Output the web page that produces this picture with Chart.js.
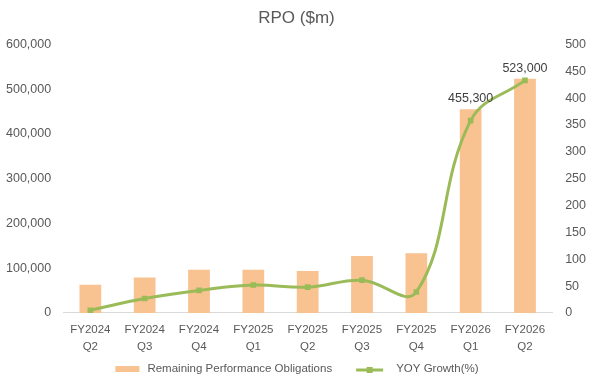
<!DOCTYPE html>
<html>
<head>
<meta charset="utf-8">
<script src="https://cdn.jsdelivr.net/npm/chart.js@4"></script>
<style>
  html, body { margin: 0; padding: 0; background: #fff; }
  #wrap { width: 592px; height: 381px; }
</style>
</head>
<body>
<div id="wrap"><canvas id="c" width="592" height="381"></canvas></div>
<script>
const categories = [
  ['FY2024', 'Q2'], ['FY2024', 'Q3'], ['FY2024', 'Q4'],
  ['FY2025', 'Q1'], ['FY2025', 'Q2'], ['FY2025', 'Q3'], ['FY2025', 'Q4'],
  ['FY2026', 'Q1'], ['FY2026', 'Q2']
];
const rpoValues = [63300, 79000, 96300, 96300, 94000, 127000, 133600, 455300, 523000];
const yoyGrowth = [5, 27, 42, 52, 48, 61, 39, 358, 433];
const labelledBars = [7, 8];
const leftTicks = [0, 100000, 200000, 300000, 400000, 500000, 600000];
const rightTicks = [0, 50, 100, 150, 200, 250, 300, 350, 400, 450, 500];
const seriesNames = ['Remaining Performance Obligations', 'YOY Growth(%)'];

const FONT = "'Liberation Sans', Arial, sans-serif";
const TXT = '#595959';
const ORANGE = '#F8C291';
const GREEN = '#9BBB59';

const dataLabelPlugin = {
  id: 'dataLabels',
  afterDatasetsDraw(chart) {
    const meta = chart.getDatasetMeta(1);
    const ctx = chart.ctx;
    ctx.save();
    ctx.font = '12.5px ' + FONT;
    ctx.fillStyle = '#404040';
    ctx.textAlign = 'center';
    ctx.textBaseline = 'bottom';
    labelledBars.forEach(i => {
      const el = meta.data[i];
      ctx.fillText(rpoValues[i].toLocaleString('en-US'), el.x, el.y - 4);
    });
    ctx.restore();
  }
};

// legend drawn below the axis: bar swatch + line-with-marker swatch
const legendPlugin = {
  id: 'customLegend',
  afterDraw(chart) {
    const ctx = chart.ctx;
    ctx.save();
    ctx.font = '11.5px ' + FONT;
    ctx.textBaseline = 'middle';
    ctx.textAlign = 'left';
    const w1 = ctx.measureText(seriesNames[0]).width;
    const w2 = ctx.measureText(seriesNames[1]).width;
    const total = 24 + 8 + w1 + 24 + 27 + 13 + w2;
    let x = chart.width / 2 - total / 2 + 1;
    const y = 369;
    ctx.fillStyle = ORANGE;
    ctx.fillRect(x, y - 3, 24, 6);
    x += 32;
    ctx.fillStyle = TXT;
    ctx.fillText(seriesNames[0], x, y);
    x += w1 + 24;
    ctx.strokeStyle = GREEN;
    ctx.lineWidth = 3;
    ctx.beginPath(); ctx.moveTo(x, y + 1); ctx.lineTo(x + 27, y + 1); ctx.stroke();
    ctx.fillStyle = GREEN;
    ctx.fillRect(x + 10.5, y - 2, 6, 6);
    x += 40;
    ctx.fillStyle = TXT;
    ctx.fillText(seriesNames[1], x, y);
    ctx.restore();
  }
};

new Chart(document.getElementById('c'), {
  data: {
    labels: categories,
    datasets: [
      {
        type: 'line',
        label: seriesNames[1],
        data: yoyGrowth,
        yAxisID: 'y1',
        borderColor: GREEN,
        backgroundColor: GREEN,
        borderWidth: 3,
        tension: 0.4,
        pointStyle: 'rect',
        pointRadius: 4,
        pointBackgroundColor: GREEN,
        pointBorderWidth: 0,
        order: 1
      },
      {
        type: 'bar',
        label: seriesNames[0],
        data: rpoValues,
        yAxisID: 'y',
        backgroundColor: ORANGE,
        barPercentage: 0.4,
        categoryPercentage: 1.0,
        order: 2
      }
    ]
  },
  options: {
    responsive: false,
    animation: false,
    layout: { padding: { left: -6, right: -7, top: 6, bottom: 18 } },
    plugins: {
      title: {
        display: true,
        text: 'RPO ($m)',
        color: TXT,
        font: { family: FONT, size: 17, weight: 'normal' },
        padding: { top: 2, bottom: 16 }
      },
      legend: { display: false },
      tooltip: { enabled: false }
    },
    scales: {
      x: {
        grid: { display: false, drawTicks: false },
        border: { display: true, color: '#D9D9D9', width: 1 },
        ticks: { color: TXT, font: { family: FONT, size: 11.5, lineHeight: 1.48 }, maxRotation: 0, autoSkip: false, padding: 8 },
        afterFit(scale) { scale.paddingLeft = 0; scale.paddingRight = 0; }
      },
      y: {
        position: 'left',
        min: 0, max: 600000,
        afterBuildTicks(axis) { axis.ticks = leftTicks.map(v => ({ value: v })); },
        grid: { display: false, drawTicks: false },
        border: { display: false },
        ticks: { color: TXT, font: { family: FONT, size: 12.5 }, padding: 12, callback: v => v.toLocaleString('en-US') }
      },
      y1: {
        position: 'right',
        min: 0, max: 500,
        afterBuildTicks(axis) { axis.ticks = rightTicks.map(v => ({ value: v })); },
        grid: { display: false, drawTicks: false },
        border: { display: false },
        ticks: { color: TXT, font: { family: FONT, size: 12.5 }, padding: 13 }
      }
    }
  },
  plugins: [dataLabelPlugin, legendPlugin]
});
</script>
</body>
</html>
